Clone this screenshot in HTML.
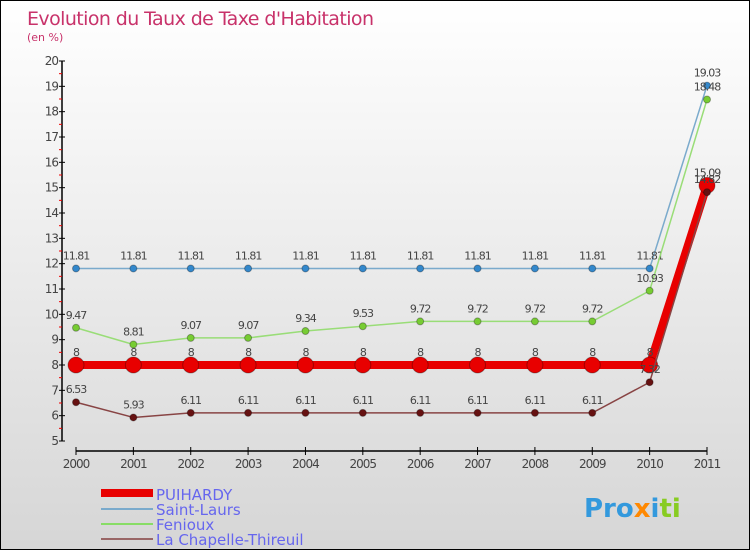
<!DOCTYPE html>
<html><head><meta charset="utf-8"><style>
body{margin:0}
#c{position:relative;width:748px;height:548px;border:1px solid #000;background:linear-gradient(#fff,#d6d6d6);font-family:"DejaVu Sans","Liberation Sans",sans-serif;overflow:hidden}
svg{position:absolute;left:0;top:0}
</style></head><body>
<div id="c">
<svg id="s" width="748" height="548">
<text x="26" y="24" font-size="19" fill="#c8326a" font-family="DejaVu Sans,sans-serif" textLength="347">Evolution du Taux de Taxe d'Habitation</text>
<text x="26" y="40" font-size="11" fill="#c8326a">(en %)</text>
<g id="ax"></g><g id="series"></g>
<g>
<rect x="100" y="488" width="52" height="8" fill="#e80000"/>
<text x="155" y="499" font-size="15" fill="#6666ee">PUIHARDY</text>
<rect x="100" y="507" width="52" height="2" fill="#7aaacc"/>
<text x="155" y="514" font-size="15" fill="#6666ee">Saint-Laurs</text>
<rect x="100" y="522" width="52" height="2" fill="#88dd66"/>
<text x="155" y="529" font-size="15" fill="#6666ee">Fenioux</text>
<rect x="100" y="537" width="52" height="2" fill="#996666"/>
<text x="155" y="544" font-size="15" fill="#6666ee">La Chapelle-Thireuil</text>
</g>
<text x="583" y="516" font-size="26" font-weight="bold"><tspan fill="#3399dd">Pro</tspan><tspan fill="#ff8800">x</tspan><tspan fill="#3399dd">i</tspan><tspan fill="#88cc22">ti</tspan></text>
</svg></div>
<script>
const years=["2000","2001","2002","2003","2004","2005","2006","2007","2008","2009","2010","2011"];
const yTicks=[5,6,7,8,9,10,11,12,13,14,15,16,17,18,19,20];
const puihardy=[8,8,8,8,8,8,8,8,8,8,8,15.09];
const saintLaurs=[11.81,11.81,11.81,11.81,11.81,11.81,11.81,11.81,11.81,11.81,11.81,19.03];
const fenioux=[9.47,8.81,9.07,9.07,9.34,9.53,9.72,9.72,9.72,9.72,10.93,18.48];
const chapelle=[6.53,5.93,6.11,6.11,6.11,6.11,6.11,6.11,6.11,6.11,7.32,14.82];
const NS="http://www.w3.org/2000/svg";
const X=i=>75+i*(706-75)/(years.length-1);
const Y=v=>440-(v-5)*(380/15);
function mk(p,t,a){const e=document.createElementNS(NS,t);for(const k in a)e.setAttribute(k,a[k]);p.appendChild(e);return e;}
const ax=document.getElementById('ax');
let l=mk(ax,'line',{x1:61,y1:Y(20),x2:61,y2:Y(5),stroke:'#000','stroke-width':1.5});


l=mk(ax,'line',{x1:X(0),y1:450,x2:X(11),y2:450,stroke:'#000','stroke-width':1.5});


yTicks.forEach(v=>{
 mk(ax,'line',{x1:58,y1:Y(v),x2:64,y2:Y(v),stroke:'#000'});
 if(v<20)mk(ax,'line',{x1:58,y1:Y(v+0.5),x2:61,y2:Y(v+0.5),stroke:'#e00'});
 const t=mk(ax,'text',{x:57,y:Y(v)+4,'font-size':12,fill:'#444','text-anchor':'end','letter-spacing':'-1'});
 t.textContent=v;
 
 
});
years.forEach((y,i)=>{
 mk(ax,'line',{x1:X(i),y1:446,x2:X(i),y2:454,stroke:'#000'});
 const t=mk(ax,'text',{x:X(i),y:467,'font-size':12,fill:'#444','text-anchor':'middle','letter-spacing':'-1'});
 t.textContent=y;
 
 
});
const sg=document.getElementById('series');
function series(name,data,color,w,r,dot){
 const g=mk(sg,'g',{});
 
 
 const p=mk(g,'polyline',{points:data.map((v,i)=>X(i)+','+Y(v)).join(' '),fill:'none',stroke:color,'stroke-width':w});
 
 
 data.forEach((v,i)=>{
  const c=mk(g,'circle',{cx:X(i),cy:Y(v),r:r,fill:dot,stroke:'rgba(0,0,0,0.3)'});
  
  
  const t=mk(g,'text',{x:X(i),y:Y(v)-9,'font-size':11,fill:'#444','text-anchor':'middle','letter-spacing':'-1'});
  t.textContent=v;
  
  
 });
}
series('saint-laurs',saintLaurs,'#7aaacc',1.5,3.5,'#3388cc');
series('fenioux',fenioux,'#99dd77',1.5,3.5,'#77cc33');
series('puihardy',puihardy,'#e80000',8,8,'#e80000');
series('la-chapelle-thireuil',chapelle,'#884444',1.5,3.5,'#661111');
</script>
</body></html>
